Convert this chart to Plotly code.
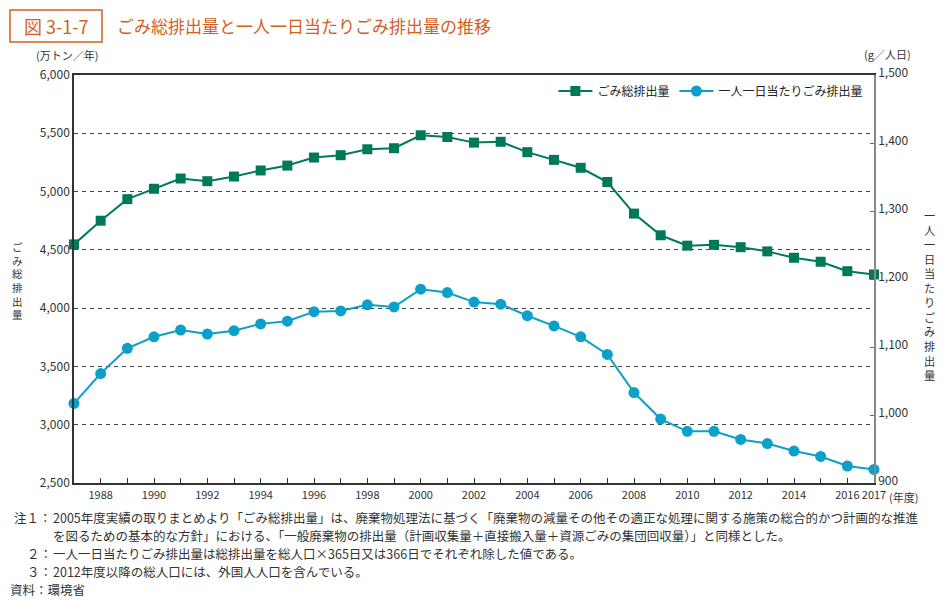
import plotly.graph_objects as go

years = list(range(1987, 2018))
total_waste = [4547, 4750, 4935, 5024, 5112, 5089, 5129, 5181, 5223, 5292,
               5312, 5363, 5372, 5483, 5468, 5420, 5427, 5338, 5272, 5204,
               5082, 4811, 4625, 4536, 4543, 4523, 4487, 4432, 4398, 4317, 4289]
per_capita = [1017, 1061, 1098, 1115, 1125, 1119, 1124, 1134, 1138, 1152,
              1153, 1162, 1159, 1185, 1180, 1166, 1163, 1146, 1131, 1115,
              1089, 1033, 994, 976, 976, 964, 958, 947, 939, 925, 920]

left_ticks = [2500, 3000, 3500, 4000, 4500, 5000, 5500, 6000]
left_ticktext = ["2,500", "3,000", "3,500", "4,000", "4,500", "5,000", "5,500", "6,000"]
right_ticks = [900, 1000, 1100, 1200, 1300, 1400, 1500]
right_ticktext = ["900", "1,000", "1,100", "1,200", "1,300", "1,400", "1,500"]
x_ticktext = [str(y) if (y % 2 == 0 or y == 2017) else "" for y in years]

GREEN = "#00795A"
BLUE = "#0AA0C8"
ORANGE = "#D2601E"
TXT = "#333333"
FONT = "Noto Sans CJK JP"

# plot area in pixels
PL, PR, PT, PB = 74, 874, 75, 483
PW, PH = PR - PL, PB - PT


def px(x):
    return (x - PL) / PW


def py(y):
    return (PB - y) / PH


fig = go.Figure()
fig.add_trace(go.Scatter(
    x=years, y=total_waste, name="ごみ総排出量", mode="lines+markers",
    line=dict(color=GREEN, width=2),
    marker=dict(symbol="square", size=10, color=GREEN),
    cliponaxis=False, yaxis="y"))
fig.add_trace(go.Scatter(
    x=years, y=per_capita, name="一人一日当たりごみ排出量", mode="lines+markers",
    line=dict(color=BLUE, width=2),
    marker=dict(symbol="circle", size=11, color=BLUE),
    cliponaxis=False, yaxis="y2"))

fig.update_layout(
    width=948, height=602,
    margin=dict(l=PL, r=948 - PR, t=PT, b=602 - PB, autoexpand=False),
    paper_bgcolor="white", plot_bgcolor="white",
    font=dict(family=FONT, size=12, color=TXT),
    showlegend=True,
    legend=dict(orientation="h", x=0.993, xanchor="right", y=py(91), yanchor="middle",
                bgcolor="rgba(0,0,0,0)", font=dict(size=12, color="#222222"),
                itemwidth=34, tracegroupgap=0),
    xaxis=dict(
        range=[1987, 2017], tickmode="array", tickvals=years, ticktext=x_ticktext,
        ticks="inside", ticklen=5, tickcolor="#333333", tickwidth=1,
        showline=True, linecolor="#333333", linewidth=1.5, mirror=True,
        showgrid=False, zeroline=False, tickfont=dict(size=11, color=TXT),
        tickangle=0, ticklabelstandoff=1),
    yaxis=dict(
        range=[2500, 6000], tickmode="array", tickvals=left_ticks, ticktext=left_ticktext,
        showline=True, linecolor="#333333", linewidth=1.5,
        showgrid=True, gridcolor="#444444", griddash="4px,4px", gridwidth=1,
        zeroline=False, ticks="", tickfont=dict(size=12, color=TXT)),
    yaxis2=dict(
        range=[900, 1500], overlaying="y", side="right",
        tickmode="array", tickvals=right_ticks, ticktext=right_ticktext,
        showline=True, linecolor="#888888", linewidth=1.5,
        ticks="inside", ticklen=4, tickcolor="#666666",
        showgrid=False, zeroline=False, tickfont=dict(size=12, color=TXT),
        ticklabelshift=-2),
)

# Title box and title
fig.add_shape(type="rect", xref="paper", yref="paper",
              x0=px(10), x1=px(102), y0=py(42), y1=py(10),
              line=dict(color=ORANGE, width=1.5), fillcolor="white")
fig.add_annotation(xref="paper", yref="paper", x=px(56), y=py(26),
                   text="図 3-1-7", showarrow=False,
                   font=dict(size=18, color=ORANGE, family=FONT),
                   xanchor="center", yanchor="middle")
fig.add_annotation(xref="paper", yref="paper", x=px(115), y=py(25),
                   text="ごみ総排出量と一人一日当たりごみ排出量の推移", showarrow=False,
                   font=dict(size=17, color=ORANGE, family=FONT),
                   xanchor="left", yanchor="middle")

# Unit labels
fig.add_annotation(xref="paper", yref="paper", x=px(35), y=py(55), borderpad=0,
                   text="(万トン／年)", showarrow=False,
                   font=dict(size=11, color=TXT), xanchor="left", yanchor="middle")
fig.add_annotation(xref="paper", yref="paper", x=px(912), y=py(54), borderpad=0,
                   text="(g／人日)", showarrow=False,
                   font=dict(size=11, color=TXT), xanchor="right", yanchor="middle")
fig.add_annotation(xref="paper", yref="paper", x=px(888), y=py(497), borderpad=0,
                   text="(年度)", showarrow=False,
                   font=dict(size=11, color=TXT), xanchor="left", yanchor="middle")

# Vertical axis titles (upright stacked characters)
left_title = "ごみ総排出量"
right_title = "一人一日当たりごみ排出量"
fig.add_annotation(xref="paper", yref="paper", x=px(18), y=py(280),
                   text="<br>".join(left_title), showarrow=False, align="center",
                   font=dict(size=10.5, color=TXT), xanchor="center", yanchor="middle")
fig.add_annotation(xref="paper", yref="paper", x=px(929), y=py(295),
                   text="<br>".join(right_title), showarrow=False, align="center",
                   font=dict(size=11.2, color=TXT), xanchor="center", yanchor="middle")

# Footnotes
note_labels = ["注１：", "", "２：", "３："]
notes = [
    "2005年度実績の取りまとめより「ごみ総排出量」は、廃棄物処理法に基づく「廃棄物の減量その他その適正な処理に関する施策の総合的かつ計画的な推進",
    "を図るための基本的な方針」における、「一般廃棄物の排出量（計画収集量＋直接搬入量＋資源ごみの集団回収量）」と同様とした。",
    "一人一日当たりごみ排出量は総排出量を総人口×365日又は366日でそれぞれ除した値である。",
    "2012年度以降の総人口には、外国人人口を含んでいる。",
]
source_text = "資料：環境省"
note_y = [517, 535, 553, 571]
NOTE_SIZE = 12.5
for lab, t, yy in zip(note_labels, notes, note_y):
    if lab:
        fig.add_annotation(xref="paper", yref="paper", x=px(53), y=py(yy), borderpad=0,
                           text=lab, showarrow=False,
                           font=dict(size=NOTE_SIZE, color=TXT), xanchor="right", yanchor="middle")
    fig.add_annotation(xref="paper", yref="paper", x=px(52), y=py(yy), borderpad=0,
                       text=t, showarrow=False,
                       font=dict(size=NOTE_SIZE, color=TXT), xanchor="left", yanchor="middle")
fig.add_annotation(xref="paper", yref="paper", x=px(9), y=py(589), borderpad=0,
                   text=source_text, showarrow=False,
                   font=dict(size=NOTE_SIZE, color=TXT), xanchor="left", yanchor="middle")

fig.write_html("out.html", config={"displayModeBar": False},
               post_script="document.body.style.margin='0';")
